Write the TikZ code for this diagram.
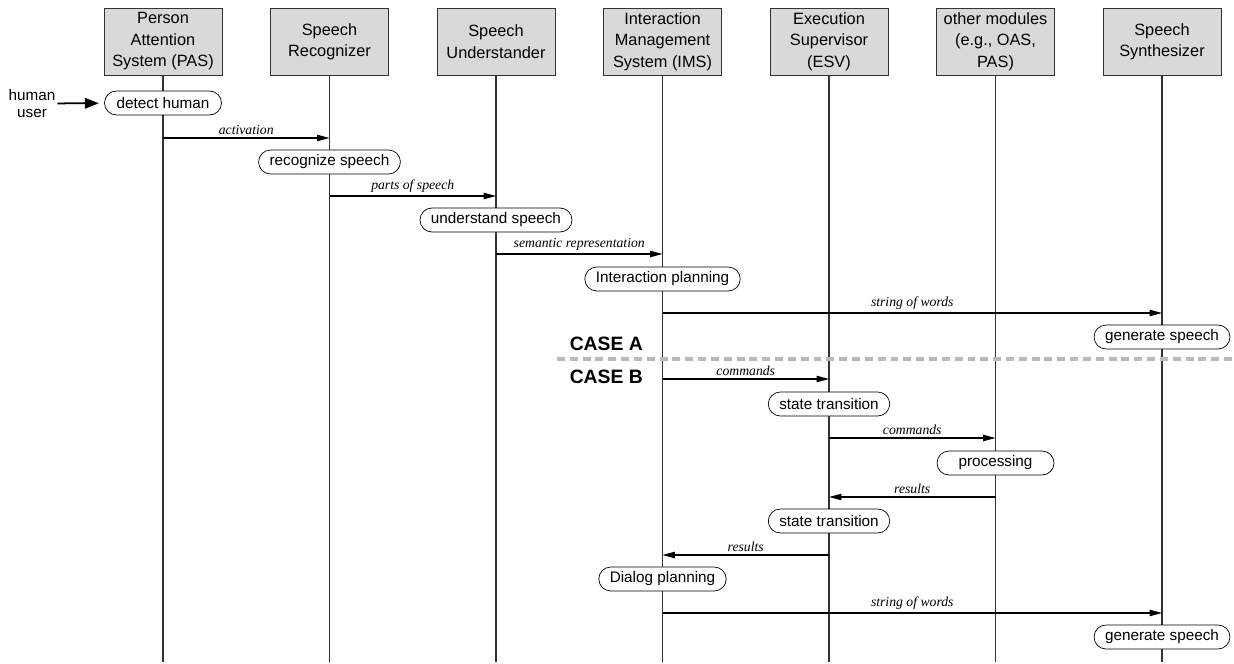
\documentclass[tikz,border=0pt]{standalone}
\usepackage{fontspec}
\setmainfont{Liberation Serif}
\setsansfont{Liberation Sans}
\usepackage{tikz}
\usetikzlibrary{arrows.meta}
\tikzset{font=\sffamily\fontsize{8.7}{10.6}\selectfont}
\tikzstyle{module} = [rectangle, minimum width=2.36cm, minimum height=1.34cm,%
text centered, align=center, draw=black!80, fill=gray!30, inner sep=1pt,%
font=\sffamily\fontsize{9.3}{12.2}\selectfont]
\tikzstyle{event} = [rectangle, rounded corners=0.24cm, minimum width=2.34cm,%
minimum height=0.48cm, inner xsep=0.22cm, inner ysep=0pt, draw=black, fill=white]
\tikzstyle{life} = [black!80, line width=0.6pt]
\tikzstyle{msg} = [line width=0.6pt, -{Triangle[length=7pt,width=3.6pt]}]
\tikzstyle{lbl} = [above, inner sep=1.5pt, font=\rmfamily\itshape\fontsize{7.8}{9}\selectfont]
\tikzstyle{case} = [anchor=east, font=\sffamily\bfseries\fontsize{11}{13}\selectfont]

\begin{document}
\begin{tikzpicture}[node distance=3.33cm]
    \useasboundingbox (0,0) rectangle (24.68,-13.28);
    % modules
    \node (pas) [module] at (3.26,-0.83) {Person\\Attention\\System (PAS)};
    \node (sr) [module, right of=pas] {Speech\\Recognizer};
    \node (su) [module, right of=sr] {Speech\\Understander};
    \node (ims) [module, right of=su] {Interaction\\Management\\System (IMS)};
    \node (esv) [module, right of=ims] {Execution\\Supervisor\\(ESV)};
    \node (other) [module, right of=esv] {other modules\\(e.g., OAS,\\PAS)};
    \node (synth) [module, right of=other] {Speech\\Synthesizer};

    \coordinate (bottom) at (0,-13.24);
    \foreach \m in {pas,sr,su,ims,esv,other,synth}
      \draw [life] (\m.south) -- (\m |- bottom);

    % case A
    \node (detect) [event] at (pas |- 0,-2.06) {detect human};
    \node (user) [align=center, inner sep=1pt, font=\sffamily\fontsize{8.7}{9.6}\selectfont]%
      at (0.64,-2.07) {human\\user};
    \draw [line width=1pt, -{Triangle[length=8pt,width=6pt]}, shorten >=3pt] (user) -- (detect);
    \draw [msg] (pas |- 0,-2.76) -- node[lbl] {activation} (sr |- 0,-2.76);
    \node (recognize) [event] at (sr |- 0,-3.24) {recognize speech};
    \draw [msg] (sr |- 0,-3.92) -- node[lbl] {parts of speech} (su |- 0,-3.92);
    \node (understand) [event] at (su |- 0,-4.40) {understand speech};
    \draw [msg] (su |- 0,-5.08) -- node[lbl] {semantic representation} (ims |- 0,-5.08);
    \node (iplan) [event] at (ims |- 0,-5.58) {Interaction planning};
    \draw [msg] (ims |- 0,-6.26) -- node[lbl] {string of words} (synth |- 0,-6.26);
    \node (gen1) [event] at (synth |- 0,-6.74) {generate speech};

    \node (caseA) [case] at (12.98,-6.88) {CASE A};
    \coordinate (divL) at (11.14,-7.18);
    \coordinate (divR) at (24.68,-7.18);
    \draw [gray!55, line width=2pt, dash pattern=on 4.5pt off 2.8pt] (divL) -- (divR);
    \node (caseB) [case] at (12.98,-7.54) {CASE B};

    % case B
    \draw [msg] (ims |- 0,-7.58) -- node[lbl] {commands} (esv |- 0,-7.58);
    \node (trans1) [event] at (esv |- 0,-8.08) {state transition};
    \draw [msg] (esv |- 0,-8.76) -- node[lbl] {commands} (other |- 0,-8.76);
    \node (process) [event] at (other |- 0,-9.26) {processing};
    \draw [msg] (other |- 0,-9.94) -- node[lbl] {results} (esv |- 0,-9.94);
    \node (trans2) [event] at (esv |- 0,-10.42) {state transition};
    \draw [msg] (esv |- 0,-11.10) -- node[lbl] {results} (ims |- 0,-11.10);
    \node (dplan) [event] at (ims |- 0,-11.58) {Dialog planning};
    \draw [msg] (ims |- 0,-12.26) -- node[lbl] {string of words} (synth |- 0,-12.26);
    \node (gen2) [event] at (synth |- 0,-12.74) {generate speech};
\end{tikzpicture}
\end{document}
